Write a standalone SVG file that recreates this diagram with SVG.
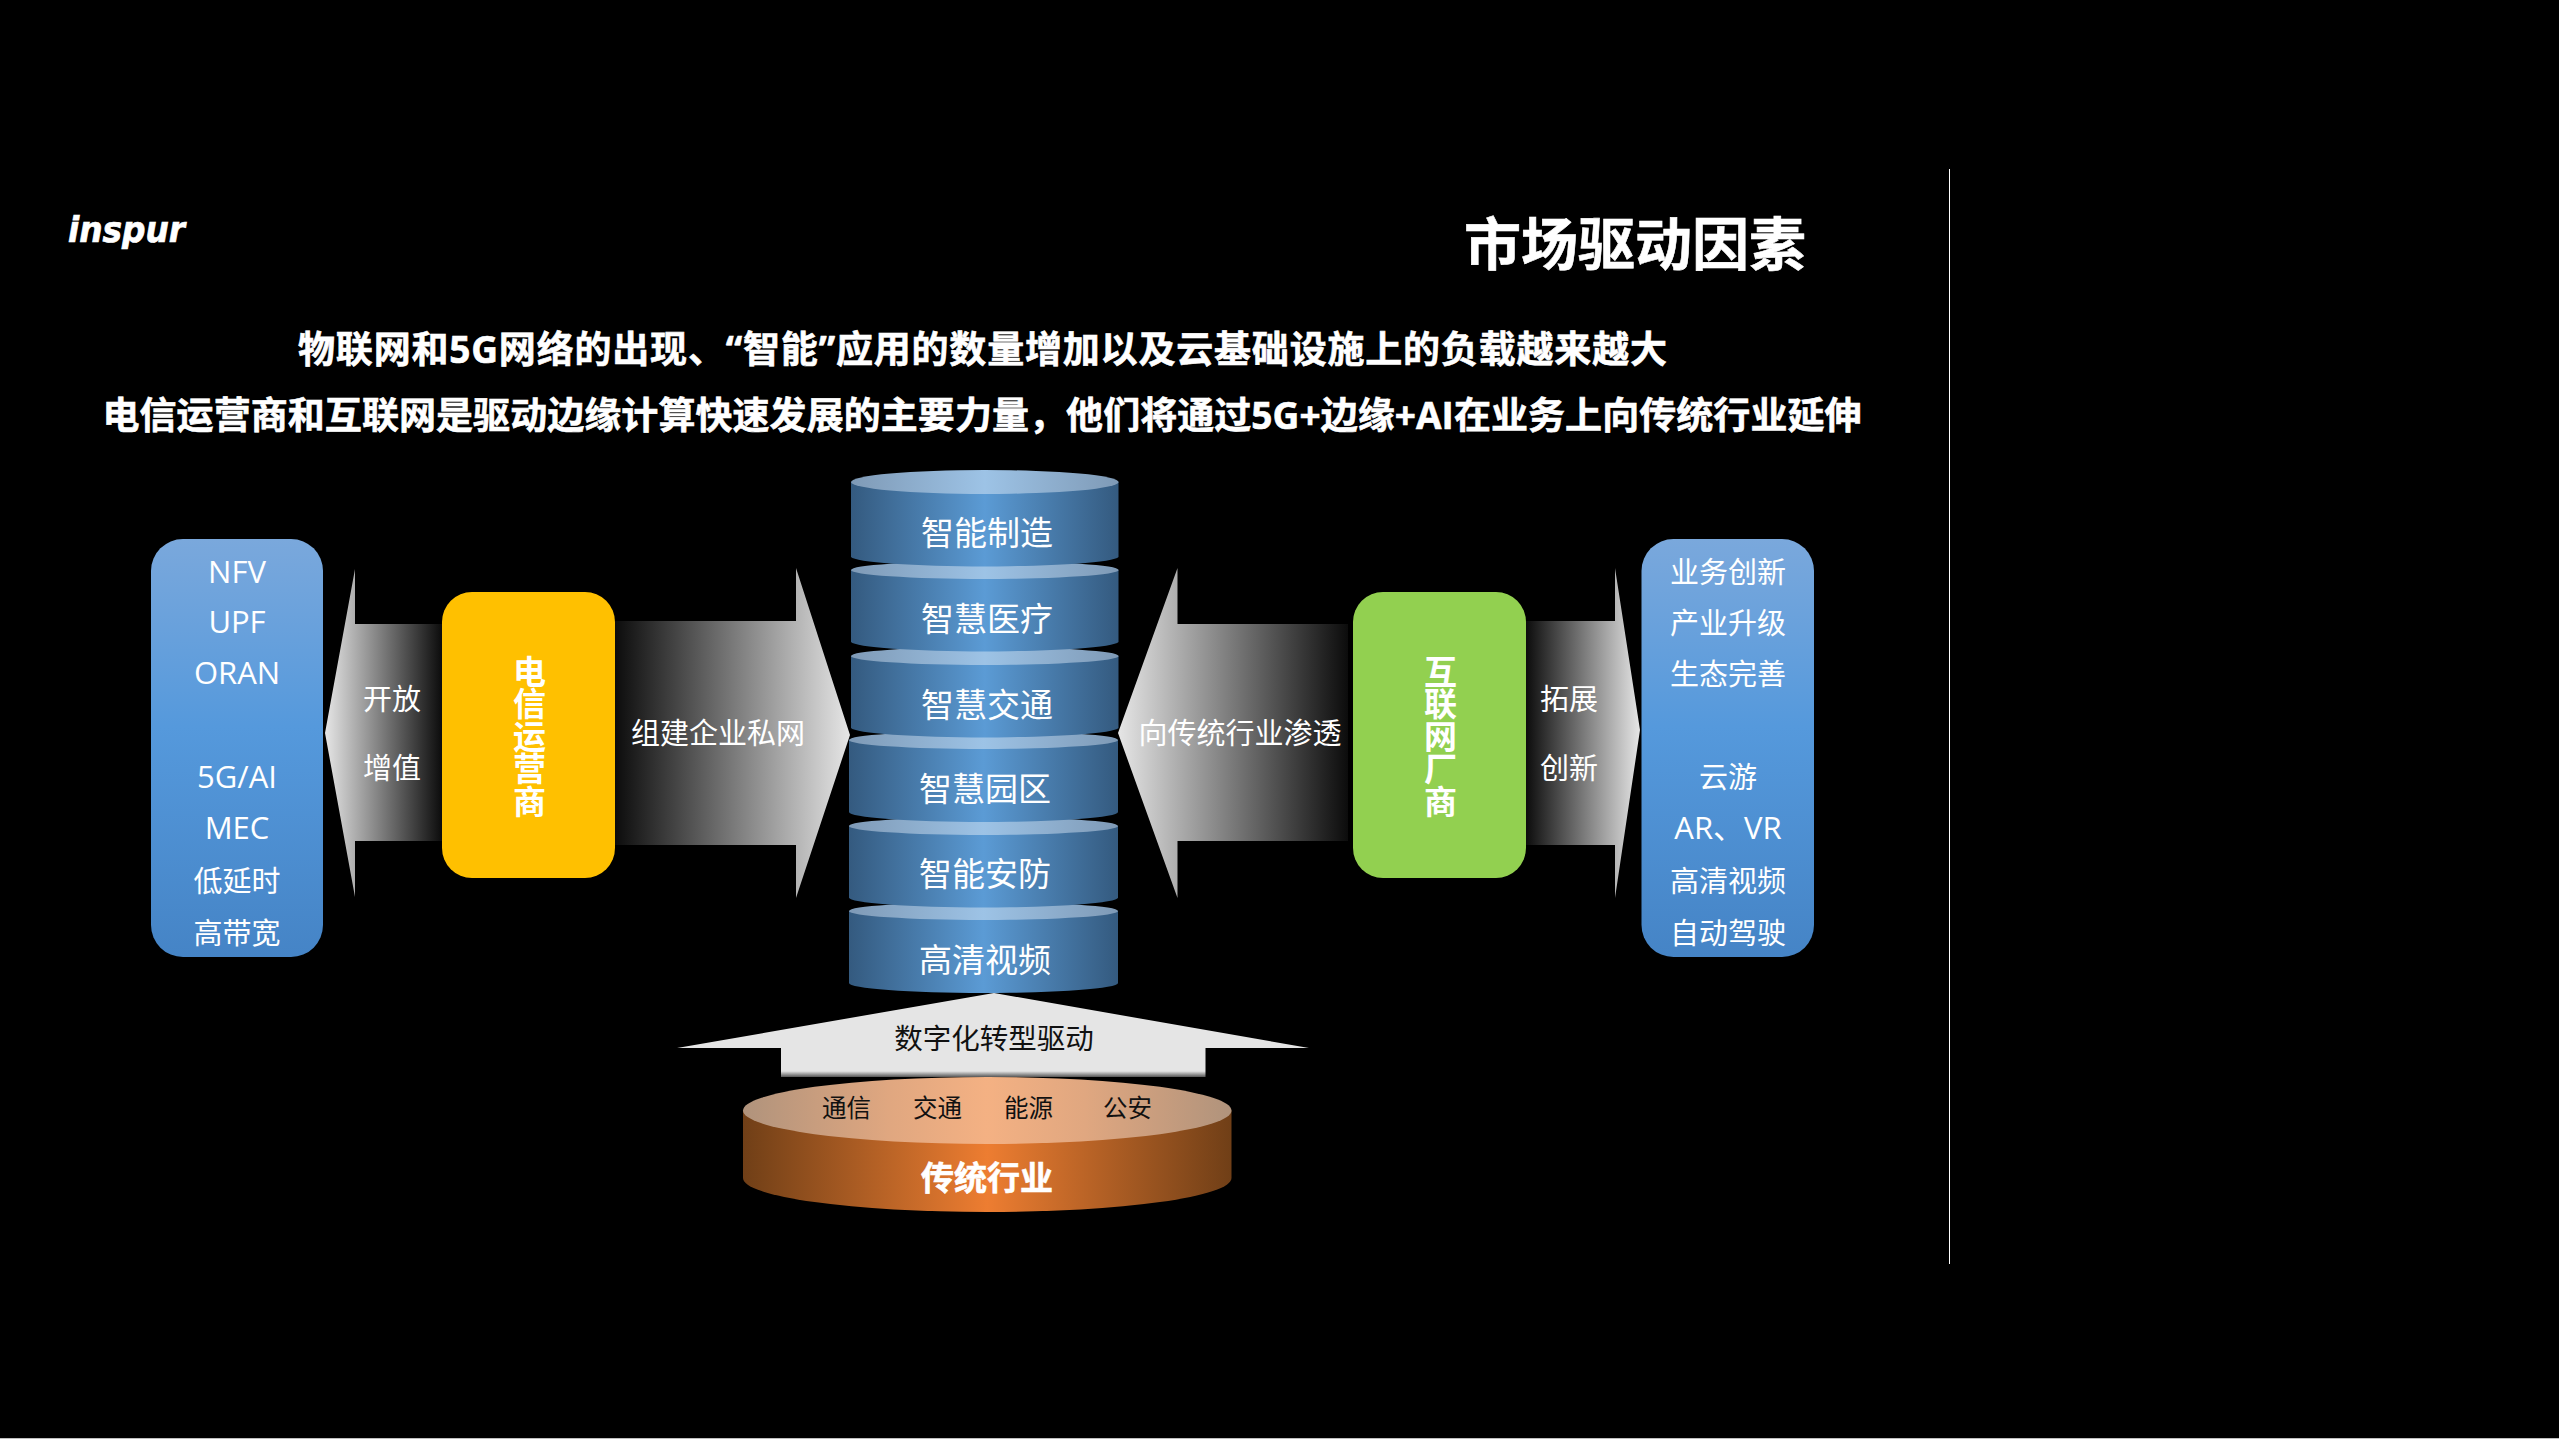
<svg xmlns="http://www.w3.org/2000/svg" width="2559" height="1439" viewBox="0 0 2559 1439">
<defs>
<linearGradient id="blueV" x1="0" y1="0" x2="0" y2="1"><stop offset="0" stop-color="#7aa8dc"/><stop offset=".45" stop-color="#5599dc"/><stop offset="1" stop-color="#4584c6"/></linearGradient>
<linearGradient id="cylSide" x1="0" y1="0" x2="1" y2="0"><stop offset="0" stop-color="#345a7f"/><stop offset=".5" stop-color="#5b9bd5"/><stop offset="1" stop-color="#345a7f"/></linearGradient>
<linearGradient id="cylTop" x1="0" y1="0" x2="1" y2="0"><stop offset="0" stop-color="#7f9ab6"/><stop offset=".5" stop-color="#9dc3e6"/><stop offset="1" stop-color="#7f9ab6"/></linearGradient>
<linearGradient id="orSide" x1="0" y1="0" x2="1" y2="0"><stop offset="0" stop-color="#703f17"/><stop offset=".5" stop-color="#ed7d31"/><stop offset="1" stop-color="#703f17"/></linearGradient>
<linearGradient id="orTop" x1="0" y1="0" x2="1" y2="0"><stop offset="0" stop-color="#b0937c"/><stop offset=".3" stop-color="#e0a780"/><stop offset=".5" stop-color="#f4b183"/><stop offset=".7" stop-color="#e0a780"/><stop offset="1" stop-color="#b0937c"/></linearGradient>
<linearGradient id="fadeL" x1="0" y1="0" x2="1" y2="0"><stop offset="0" stop-color="#e6e6e6"/><stop offset="1" stop-color="#0c0c0c"/></linearGradient>
<linearGradient id="fadeR" x1="0" y1="0" x2="1" y2="0"><stop offset="0" stop-color="#0c0c0c"/><stop offset="1" stop-color="#e6e6e6"/></linearGradient>
<linearGradient id="upFill" x1="0" y1="0" x2="0" y2="1"><stop offset="0" stop-color="#e5e5e5"/><stop offset=".93" stop-color="#e5e5e5"/><stop offset="1" stop-color="#555"/></linearGradient>
</defs>
<style>
text{font-family:"Open Sans","Noto Sans CJK SC",sans-serif;text-anchor:middle;dominant-baseline:central}
.lab{fill:#fff;font-size:29px}
.lat{fill:#fff;font-size:31px}
.cyl{fill:#fff;font-size:33px}
.b{font-weight:700;fill:#fff}
.h{stroke:#fff;stroke-width:.6px}
.k{fill:#111}
.v{writing-mode:vertical-rl;letter-spacing:-.5px;font-size:33px}
</style>
<rect width="2559" height="1439" fill="#000"/>
<rect y="1438" width="2559" height="1" fill="#c0c0c0"/>
<g id="logo"><text x="126.500" y="242" style="font-family:'DejaVu Sans',sans-serif;font-weight:700;font-style:italic;font-size:35px;dominant-baseline:auto;stroke:#fff;stroke-width:.7px" fill="#fff" textLength="117" lengthAdjust="spacingAndGlyphs">inspur</text></g>
<g id="title"><text x="1635" y="243" class="b h" font-size="57">市场驱动因素</text></g>
<g id="subtitle">
<text x="982.500" y="348" class="b h" font-size="37" textLength="1369">物联网和5G网络的出现、“智能”应用的数量增加以及云基础设施上的负载越来越大</text>
<text x="982" y="414" class="b h" font-size="37" textLength="1759">电信运营商和互联网是驱动边缘计算快速发展的主要力量，他们将通过5G+边缘+AI在业务上向传统行业延伸</text>
</g>
<rect id="divider" x="1949" y="169" width="1" height="1095" fill="#fff"/>
<g id="connectors">
<path id="arrow-open" d="M325 733L355 569V624H442V841H355V897Z" fill="url(#fadeL)"/>
<path id="arrow-private" d="M615 621H796V568L850 735L796 898V845H615Z" fill="url(#fadeR)"/>
<path id="arrow-penetrate" d="M1118 733L1177.500 568V624H1348V841H1177.500V898Z" fill="url(#fadeL)"/>
<path id="arrow-expand" d="M1526 621H1615V568L1640 730L1615 898V845H1526Z" fill="url(#fadeR)"/>
<path id="arrow-up" d="M994 993L1309 1048H1205.500V1077H781V1048H677Z" fill="url(#upFill)"/>
</g>
<g id="left-box"><rect x="151" y="539" width="172" height="418" rx="32" fill="url(#blueV)"/>
<text class="lat" x="237" y="571">NFV</text><text class="lat" x="237" y="621">UPF</text><text class="lat" x="237" y="672">ORAN</text><text class="lat" x="237" y="776">5G/AI</text><text class="lat" x="237" y="827">MEC</text><text class="lab" x="237" y="880">低延时</text><text class="lab" x="237" y="932">高带宽</text></g>
<g id="label-open"><text class="lab" x="392" y="698">开放</text><text class="lab" x="392" y="767">增值</text></g>
<g id="telecom"><rect x="442" y="592" width="173" height="286" rx="30" fill="#ffc000"/>
<text class="b v" x="528" y="736">电信运营商</text></g>
<g id="label-private"><text class="lab" x="718" y="732">组建企业私网</text></g>
<g id="stack">
<g id="cyl-6"><path d="M849 911V983A134.500 10 0 0 0 1118 983V911Z" fill="url(#cylSide)"/><ellipse cx="983.500" cy="911" rx="134.500" ry="9" fill="url(#cylTop)"/><text class="cyl" x="985" y="959">高清视频</text></g>
<g id="cyl-5"><path d="M849 826V897.500A134.500 10 0 0 0 1118 897.500V826Z" fill="url(#cylSide)"/><ellipse cx="983.500" cy="826" rx="134.500" ry="9" fill="url(#cylTop)"/><text class="cyl" x="985" y="873">智能安防</text></g>
<g id="cyl-4"><path d="M849 740V812A134.500 10 0 0 0 1118 812V740Z" fill="url(#cylSide)"/><ellipse cx="983.500" cy="740" rx="134.500" ry="9" fill="url(#cylTop)"/><text class="cyl" x="985" y="788">智慧园区</text></g>
<g id="cyl-3"><path d="M851 656V728A134 10 0 0 0 1118.500 728V656Z" fill="url(#cylSide)"/><ellipse cx="984.800" cy="656" rx="133.800" ry="9" fill="url(#cylTop)"/><text class="cyl" x="987" y="704">智慧交通</text></g>
<g id="cyl-2"><path d="M851 570V642A134 10 0 0 0 1118.500 642V570Z" fill="url(#cylSide)"/><ellipse cx="984.800" cy="570" rx="133.800" ry="9" fill="url(#cylTop)"/><text class="cyl" x="987" y="618">智慧医疗</text></g>
<g id="cyl-1"><path d="M851 482V557A134 10 0 0 0 1118.500 557V482Z" fill="url(#cylSide)"/><ellipse cx="984.800" cy="482" rx="133.800" ry="12" fill="url(#cylTop)"/><text class="cyl" x="987" y="532">智能制造</text></g>
</g>
<g id="label-up"><text class="k" font-size="28.500" x="994" y="1038">数字化转型驱动</text></g>
<g id="traditional"><path d="M743 1110.500V1178A244.250 34 0 0 0 1231.500 1178V1110.500Z" fill="url(#orSide)"/><ellipse cx="987.250" cy="1110.500" rx="244.250" ry="33.500" fill="url(#orTop)"/>
<text class="k" font-size="24.500" x="846.500" y="1107">通信</text><text class="k" font-size="24.500" x="937.500" y="1107">交通</text><text class="k" font-size="24.500" x="1028.500" y="1107">能源</text><text class="k" font-size="24.500" x="1127.500" y="1107">公安</text>
<text class="b h" font-size="33" x="987" y="1177">传统行业</text></g>
<g id="label-penetrate"><text class="lab" x="1240" y="732">向传统行业渗透</text></g>
<g id="internet"><rect x="1353" y="592" width="173" height="286" rx="30" fill="#92d050"/>
<text class="b v" x="1439" y="736">互联网厂商</text></g>
<g id="label-expand"><text class="lab" x="1569" y="698">拓展</text><text class="lab" x="1569" y="767">创新</text></g>
<g id="right-box"><rect x="1641.500" y="539" width="172.500" height="418" rx="32" fill="url(#blueV)"/>
<text class="lab" x="1728" y="571">业务创新</text><text class="lab" x="1728" y="622">产业升级</text><text class="lab" x="1728" y="673">生态完善</text><text class="lab" x="1728" y="776">云游</text><text class="lat" x="1728" y="827">AR、VR</text><text class="lab" x="1728" y="880">高清视频</text><text class="lab" x="1728" y="932">自动驾驶</text></g>
</svg>
